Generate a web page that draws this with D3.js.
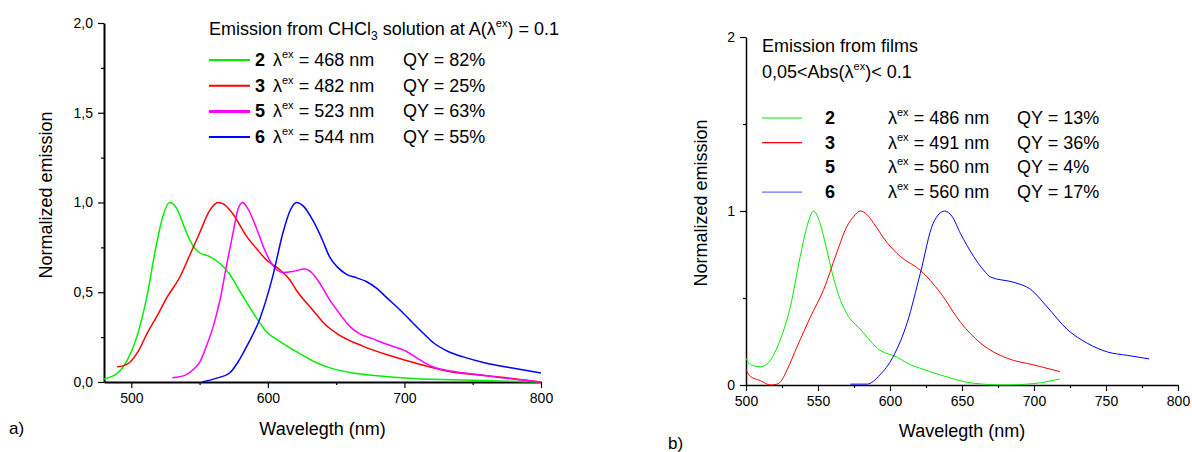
<!DOCTYPE html>
<html>
<head>
<meta charset="utf-8">
<script src="https://cdn.jsdelivr.net/npm/d3@7"></script>
<style>
  body { margin: 0; background: #fff; }
  svg { font-family: "Liberation Sans", Arial, sans-serif; }
  .tick text { font-size: 14px; fill: #000; }
</style>
</head>
<body>
<script>
let w = 1192;
let h = 452;

// panel a) solution spectra  [wavelength, normalized emission]
let solGreen = [[480,0.017],[490,0.05],[497,0.12],[504,0.25],[511,0.46],[518,0.75],[523,0.92],[528,1.0],[533,0.97],[540,0.84],[545,0.76],[550,0.72],[557,0.7],[565,0.66],[572,0.6],[580,0.5],[588,0.4],[599,0.28],[610,0.22],[623,0.16],[635,0.11],[645,0.08],[662,0.05],[680,0.035],[706,0.02],[750,0.01],[800,0.0]];
let solRed = [[489.5,0.085],[494,0.09],[499,0.11],[505,0.17],[511.5,0.27],[519,0.37],[526,0.47],[535.6,0.585],[543,0.71],[550,0.83],[557,0.95],[563.6,1.0],[568,0.99],[574,0.94],[584.6,0.81],[592,0.74],[599,0.68],[608,0.63],[616,0.57],[621,0.51],[633,0.4],[642,0.32],[650.5,0.27],[669.5,0.2],[688,0.15],[706,0.11],[735,0.056],[760,0.035],[779,0.02],[800,0.0]];
let solMagenta = [[530,0.024],[540,0.04],[545,0.067],[550,0.11],[555,0.2],[560,0.31],[565,0.46],[570,0.66],[574.5,0.83],[578,0.96],[581.5,1.0],[585,0.97],[592,0.85],[598,0.73],[603.6,0.65],[611,0.61],[618,0.615],[627,0.63],[632,0.61],[638,0.55],[645,0.46],[652.6,0.38],[660,0.31],[667,0.27],[677,0.24],[687,0.21],[701.6,0.17],[712,0.12],[720.7,0.085],[735,0.06],[755,0.04],[775,0.02],[800,0.0]];
let solBlue = [[552,0.0],[562,0.02],[572,0.05],[578,0.11],[584.6,0.2],[594,0.35],[603.6,0.59],[611,0.83],[616,0.95],[621,1.0],[626,0.98],[633,0.9],[640,0.79],[645,0.7],[651,0.64],[657.6,0.6],[665,0.58],[672,0.56],[680,0.52],[687,0.47],[697,0.4],[706,0.33],[714,0.27],[721,0.22],[732,0.17],[743,0.14],[760,0.105],[779,0.078],[800,0.05]];

// panel b) film spectra
let filmGreen = [[500,0.155],[502.5,0.12],[505.3,0.11],[510,0.105],[514.6,0.12],[519,0.17],[523.8,0.26],[530.8,0.45],[537.7,0.74],[542,0.9],[547,1.0],[551,0.94],[556,0.78],[560,0.64],[563,0.55],[570,0.41],[579.4,0.32],[593,0.2],[605,0.16],[612,0.125],[623,0.09],[635,0.058],[658,0.01],[681,0.0],[700,0.008],[718,0.035]];
let filmRed = [[500,0.086],[503,0.05],[510,0.025],[517,0.0],[521.6,0.005],[525,0.03],[528.5,0.086],[535.5,0.22],[544.7,0.39],[554,0.55],[563,0.76],[570,0.91],[575,0.97],[579.4,1.0],[584,0.98],[588.6,0.93],[597.8,0.82],[607,0.74],[621,0.66],[635,0.53],[649,0.36],[663,0.24],[681,0.155],[700,0.115],[718,0.077]];
let filmBlue = [[572.5,0.005],[584,0.005],[593,0.058],[602,0.16],[612,0.36],[621,0.64],[630,0.93],[638,1.0],[643,0.97],[649,0.87],[658,0.74],[665,0.66],[670,0.62],[686,0.59],[697.6,0.55],[709,0.45],[723,0.32],[737,0.24],[751,0.19],[765,0.17],[780,0.15]];

let solLegend = [
  { n: "2", ex: "468", qy: "82%", c: "#00ee00", sw: 2 },
  { n: "3", ex: "482", qy: "25%", c: "#ff0000", sw: 2 },
  { n: "5", ex: "523", qy: "63%", c: "#ff00ff", sw: 3 },
  { n: "6", ex: "544", qy: "55%", c: "#0000ff", sw: 2 }
];
let filmLegend = [
  { n: "2", ex: "486", qy: "13%", c: "#00ee00" },
  { n: "3", ex: "491", qy: "36%", c: "#ff0000" },
  { n: "5", ex: "560", qy: "4%", c: "none" },
  { n: "6", ex: "560", qy: "17%", c: "#6f6fff" }
];

let svg = d3.select("body").append("svg").attr("width", w).attr("height", h);

function comma(d) { return d3.format(".1f")(d).replace(".", ","); }

function panel(opt) {
  let x = d3.scaleLinear().domain(opt.xd).range(opt.xr);
  let y = d3.scaleLinear().domain([0, 2]).range(opt.yr);
  let g = svg.append("g");

  // minor ticks
  g.append("g").attr("transform", "translate(0," + opt.yr[0] + ")")
    .call(d3.axisBottom(x).tickValues(opt.xMinor).tickSize(3).tickFormat(""))
    .call(a => a.select(".domain").remove());
  g.append("g").attr("transform", "translate(" + opt.xr[0] + ",0)")
    .call(d3.axisLeft(y).tickValues(opt.yMinor).tickSize(3).tickFormat(""))
    .call(a => a.select(".domain").remove());

  let xa = g.append("g").attr("transform", "translate(0," + opt.yr[0] + ")")
    .call(d3.axisBottom(x).tickValues(opt.xMajor).tickSize(6).tickSizeOuter(0).tickPadding(5));
  let ya = g.append("g").attr("transform", "translate(" + opt.xr[0] + ",0)")
    .call(d3.axisLeft(y).tickValues(opt.yMajor).tickSize(6).tickSizeOuter(0).tickPadding(5).tickFormat(opt.yFmt));
  [xa, ya].forEach(a => a.select(".domain").attr("stroke-width", opt.aw));
  g.selectAll(".tick line").attr("stroke-width", 1.2);

  let line = d3.line().x(d => x(d[0])).y(d => y(d[1])).curve(d3.curveMonotoneX);
  opt.series.forEach(s => {
    g.append("path").datum(s.data).attr("d", line)
      .attr("fill", "none").attr("stroke", s.c).attr("stroke-width", opt.lw);
  });

  g.append("text").attr("x", (opt.xr[0] + opt.xr[1]) / 2).attr("y", opt.xlY)
    .attr("text-anchor", "middle").attr("font-size", 18).text("Wavelegth (nm)");
  g.append("text").attr("transform", "translate(" + opt.ylX + "," + opt.ylY + ") rotate(-90)")
    .attr("text-anchor", "middle").attr("font-size", 18).text("Normalized emission");
  g.append("text").attr("x", opt.tagX).attr("y", opt.tagY).attr("font-size", 17).text(opt.tag);
  return g;
}

panel({
  xd: [480, 800], xr: [104, 541], yr: [382, 23],
  xMajor: [500, 600, 700, 800], xMinor: [550, 650, 750],
  yMajor: [0, 0.5, 1, 1.5, 2], yMinor: [0.25, 0.75, 1.25, 1.75],
  yFmt: comma, aw: 2, lw: 1.5,
  series: [
    { data: solGreen, c: "#00ee00" }, { data: solRed, c: "#ff0000" },
    { data: solMagenta, c: "#ff00ff" }, { data: solBlue, c: "#0000ff" }
  ],
  xlY: 435, ylX: 52, ylY: 195, tag: "a)", tagX: 9, tagY: 434
});

panel({
  xd: [500, 800], xr: [746, 1178], yr: [385, 37],
  xMajor: [500, 550, 600, 650, 700, 750, 800], xMinor: [525, 575, 625, 675, 725, 775],
  yMajor: [0, 1, 2], yMinor: [0.5, 1.5],
  yFmt: d3.format("d"), aw: 1.5, lw: 1,
  series: [
    { data: filmGreen, c: "#00ee00" }, { data: filmRed, c: "#ff0000" },
    { data: filmBlue, c: "#0000ff" }
  ],
  xlY: 437, ylX: 707, ylY: 203, tag: "b)", tagX: 668, tagY: 449
});

// legend a)
let la = svg.append("g").attr("font-size", 18);
let t1 = la.append("text").attr("x", 209).attr("y", 35);
t1.append("tspan").text("Emission from CHCl");
t1.append("tspan").attr("font-size", 12).attr("dy", 5).text("3");
t1.append("tspan").attr("dy", -5).text(" solution at A(λ");
t1.append("tspan").attr("font-size", 11).attr("dy", -8).text("ex");
t1.append("tspan").attr("dy", 8).text(") = 0.1");

solLegend.forEach((d, i) => {
  let yy = 60 + i * 25.7;
  la.append("line").attr("x1", 209).attr("x2", 250).attr("y1", yy).attr("y2", yy)
    .attr("stroke", d.c).attr("stroke-width", d.sw);
  la.append("text").attr("x", 255).attr("y", yy + 6).attr("font-weight", "bold").text(d.n);
  let t = la.append("text").attr("x", 273).attr("y", yy + 6);
  t.append("tspan").text("λ");
  t.append("tspan").attr("font-size", 11).attr("dy", -8).text("ex");
  t.append("tspan").attr("dy", 8).text(" = " + d.ex + " nm");
  la.append("text").attr("x", 403).attr("y", yy + 6).text("QY = " + d.qy);
});

// legend b)
let lb = svg.append("g").attr("font-size", 18);
lb.append("text").attr("x", 762).attr("y", 52).text("Emission from films");
let t2 = lb.append("text").attr("x", 762).attr("y", 78);
t2.append("tspan").text("0,05<Abs(λ");
t2.append("tspan").attr("font-size", 11).attr("dy", -8).text("ex");
t2.append("tspan").attr("dy", 8).text(")< 0.1");

filmLegend.forEach((d, i) => {
  let yy = 118 + i * 24.7;
  if (d.c !== "none") {
    lb.append("line").attr("x1", 762).attr("x2", 802).attr("y1", yy).attr("y2", yy)
      .attr("stroke", d.c).attr("stroke-width", 1.2);
  }
  lb.append("text").attr("x", 825).attr("y", yy + 6).attr("font-weight", "bold").text(d.n);
  let t = lb.append("text").attr("x", 888).attr("y", yy + 6);
  t.append("tspan").text("λ");
  t.append("tspan").attr("font-size", 11).attr("dy", -8).text("ex");
  t.append("tspan").attr("dy", 8).text(" = " + d.ex + " nm");
  lb.append("text").attr("x", 1017).attr("y", yy + 6).text("QY = " + d.qy);
});
</script>
</body>
</html>
